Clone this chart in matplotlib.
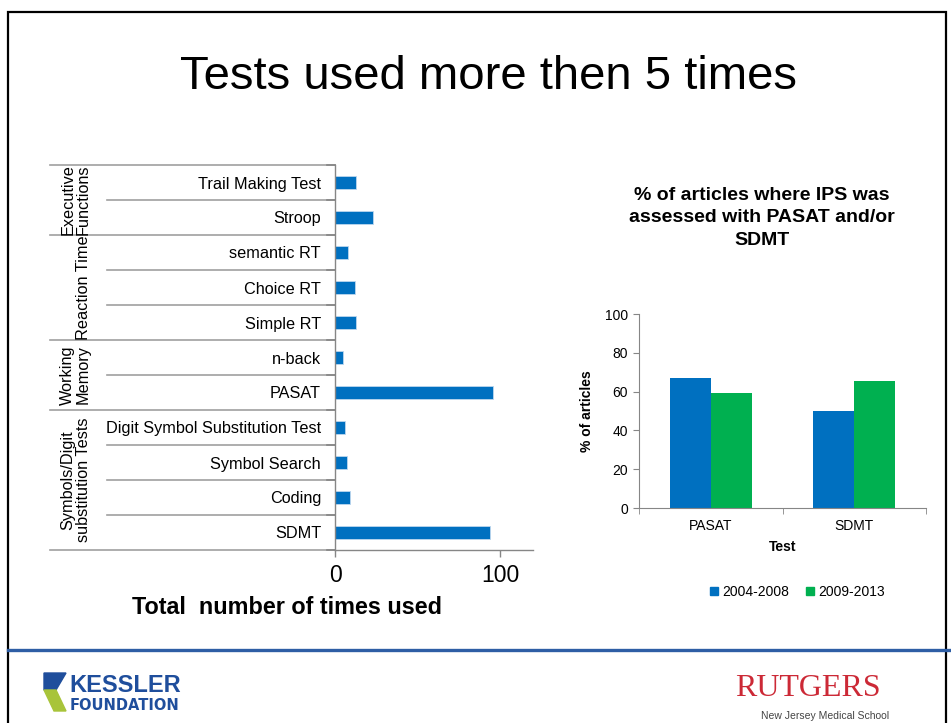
import matplotlib
matplotlib.use("Agg")
import matplotlib.pyplot as plt
from matplotlib.lines import Line2D
from matplotlib.patches import Rectangle, Polygon

plt.rcParams['font.family'] = ['Liberation Sans', 'DejaVu Sans']

# ---------------- data ----------------
tests = ['Trail Making Test', 'Stroop', 'semantic RT', 'Choice RT', 'Simple RT',
         'n-back', 'PASAT', 'Digit Symbol Substitution Test', 'Symbol Search',
         'Coding', 'SDMT']
times_used = [13, 23, 8, 12, 13, 5, 96, 6, 7, 9, 94]
groups = ['Executive\nFunctions', 'Reaction Time', 'Working\nMemory',
          'Symbols/Digit\nsubstitution Tests']
group_sizes = [2, 3, 2, 4]
left_xticks = [0, 100]

categories = ['PASAT', 'SDMT']
periods = ['2004-2008', '2009-2013']
pct_2004_2008 = [67, 50]
pct_2009_2013 = [59.3, 65.3]
right_yticks = [0, 20, 40, 60, 80, 100]

BLUE = '#0070C0'
GREEN = '#00B050'
GRAY = '#868686'

W, H = 951, 723
fig = plt.figure(figsize=(W / 100, H / 100), dpi=100)


def fx(px):
    return px / W


def fy(py):
    return 1 - py / H


# slide frame and footer
fig.add_artist(Rectangle((fx(8), fy(730)), fx(946) - fx(8), fy(12) - fy(730),
                         transform=fig.transFigure, fill=False, lw=1.6,
                         edgecolor='black'))
fig.add_artist(Line2D([fx(8), 1.0], [fy(650), fy(650)], transform=fig.transFigure,
                      color='#2E5EA5', lw=2.4))

# title
fig.text(fx(489), fy(77), 'Tests used more then 5 times', ha='center',
         va='center', fontsize=34)

# ---------------- left chart ----------------
L0, L1, T0, B0 = 335, 533, 165, 550
ax1 = fig.add_axes([fx(L0), fy(B0), (L1 - L0) / W, (B0 - T0) / H])
ypos = list(range(len(tests)))
ax1.barh(ypos, times_used, height=0.38, color=BLUE, edgecolor='#BDD7EE',
         linewidth=0.6)
ax1.set_ylim(len(tests) - 0.5, -0.5)
ax1.set_xlim(0, 120)
ax1.set_xticks(left_xticks)
ax1.set_xticklabels([str(t) for t in left_xticks])
ax1.set_yticks(ypos)
ax1.set_yticklabels(tests)
ax1.tick_params(axis='y', length=0, pad=10, labelsize=11.7)
ax1.tick_params(axis='x', length=5, width=1, color=GRAY, labelsize=16.5, pad=5,
                direction='out')
for s in ['top', 'right']:
    ax1.spines[s].set_visible(False)
for s in ['left', 'bottom']:
    ax1.spines[s].set_color(GRAY)
    ax1.spines[s].set_linewidth(1)

tr = ax1.get_yaxis_transform()
ax_w = L1 - L0
x_item = (107 - L0) / ax_w
x_group = (50 - L0) / ax_w
group_bounds = [0]
for g in group_sizes:
    group_bounds.append(group_bounds[-1] + g)
for k in range(len(tests) + 1):
    xs = x_group if k in group_bounds else x_item
    ax1.plot([xs, 0], [k - 0.5, k - 0.5], transform=tr, color='#A0A0A0',
             lw=1.2, clip_on=False)
    ax1.plot([0, -8 / ax_w], [k - 0.5, k - 0.5], transform=tr, color=GRAY,
             lw=1.2, clip_on=False)
for gi, name in enumerate(groups):
    c = (group_bounds[gi] + group_bounds[gi + 1] - 1) / 2
    ax1.text((91 - L0) / ax_w, c, name, transform=tr, rotation=90, ha='right',
             va='center', fontsize=11.7, linespacing=1.05,
             multialignment='center')

fig.text(fx(287), fy(608), 'Total  number of times used', ha='center',
         va='center', fontsize=16.8, fontweight='bold')

# ---------------- right chart ----------------
R0, R1, RT, RB = 639, 926, 314, 508
ax2 = fig.add_axes([fx(R0), fy(RB), (R1 - R0) / W, (RB - RT) / H])
w = 0.287
xs = list(range(len(categories)))
ax2.bar([x - w / 2 for x in xs], pct_2004_2008, width=w, color=BLUE,
        label=periods[0])
ax2.bar([x + w / 2 for x in xs], pct_2009_2013, width=w, color=GREEN,
        label=periods[1])
ax2.set_xlim(-0.5, len(categories) - 0.5)
ax2.set_ylim(0, 100)
ax2.set_yticks(right_yticks)
ax2.set_xticks(xs)
ax2.set_xticklabels(categories)
ax2.set_xticks([-0.5, 0.5, 1.5], minor=True)
ax2.tick_params(axis='x', which='major', length=0, labelsize=10, pad=8)
ax2.tick_params(axis='x', which='minor', length=4, color=GRAY)
ax2.tick_params(axis='y', length=4, color=GRAY, labelsize=10, pad=4)
for s in ['top', 'right']:
    ax2.spines[s].set_visible(False)
for s in ['left', 'bottom']:
    ax2.spines[s].set_color(GRAY)
ax2.set_xlabel('Test', fontsize=10, fontweight='bold', labelpad=5)
ax2.set_ylabel('% of articles', fontsize=10, fontweight='bold', labelpad=8)

fig.text(fx(762), fy(218), '% of articles where IPS was\nassessed with PASAT and/or\nSDMT',
         ha='center', va='center', fontsize=14, fontweight='bold',
         linespacing=1.4)

handles = [Line2D([], [], marker='s', linestyle='none', markersize=6,
                  color=BLUE),
           Line2D([], [], marker='s', linestyle='none', markersize=6,
                  color=GREEN)]
fig.legend(handles, periods, loc='center', bbox_to_anchor=(fx(797), fy(592)),
           ncol=2, frameon=False, fontsize=10, handlelength=0.7,
           handletextpad=0.2, columnspacing=1.2)

# ---------------- logos ----------------
fig.add_artist(Polygon([[fx(44), fy(673)], [fx(66), fy(673)], [fx(56), fy(690)],
                        [fx(44), fy(690)]], closed=True,
                       transform=fig.transFigure, color='#1F4E9C'))
fig.add_artist(Polygon([[fx(44), fy(690)], [fx(56), fy(690)], [fx(66), fy(711)],
                        [fx(54), fy(711)]], closed=True,
                       transform=fig.transFigure, color='#A8C43A'))
fig.text(fx(69), fy(686), 'KESSLER', ha='left', va='center', fontsize=17,
         fontweight='bold', color='#1F4E9C')
fig.text(fx(70), fy(706), 'FOUNDATION', ha='left', va='center', fontsize=10.5,
         fontweight='bold', color='#1F4E9C', family='DejaVu Sans')
fig.text(fx(808), fy(688), 'RUTGERS', ha='center', va='center', fontsize=23,
         color='#CC2936', family='Liberation Serif')
fig.text(fx(825), fy(716), 'New Jersey Medical School', ha='center',
         va='center', fontsize=7.5, color='#444444')

fig.savefig('out.png', dpi=100)
